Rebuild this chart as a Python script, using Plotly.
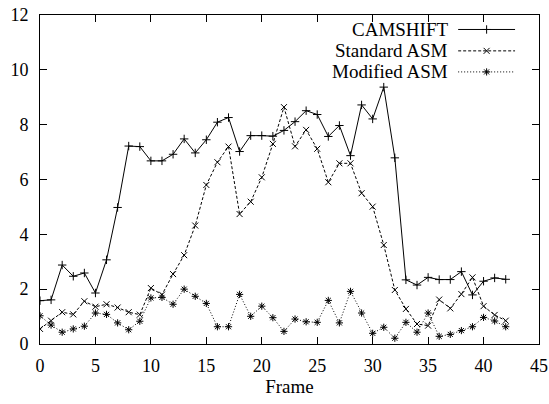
import plotly.graph_objects as go

frames = list(range(43))
camshift = [1.58, 1.61, 2.88, 2.47, 2.59, 1.86, 3.07, 4.98, 7.22, 7.20,
            6.68, 6.68, 6.92, 7.48, 6.97, 7.45, 8.09, 8.26, 7.02, 7.60,
            7.60, 7.58, 7.79, 8.11, 8.51, 8.37, 7.57, 7.97, 6.87, 8.72,
            8.21, 9.37, 6.79, 2.34, 2.15, 2.43, 2.35, 2.35, 2.64, 1.79,
            2.29, 2.41, 2.36]
standard_asm = [0.55, 0.85, 1.16, 1.08, 1.56, 1.36, 1.45, 1.33, 1.16, 1.07,
                2.04, 1.80, 2.55, 3.24, 4.32, 5.80, 6.63, 7.20, 4.74, 5.19,
                6.08, 7.30, 8.64, 7.21, 7.81, 7.12, 5.90, 6.59, 6.59, 5.50,
                5.01, 3.61, 1.97, 1.28, 0.73, 0.67, 1.62, 1.30, 1.82, 2.43,
                1.38, 1.06, 0.85]
modified_asm = [1.03, 0.69, 0.43, 0.55, 0.65, 1.13, 1.08, 0.77, 0.52, 0.83,
                1.68, 1.70, 1.45, 2.00, 1.74, 1.48, 0.63, 0.63, 1.81, 1.01,
                1.38, 0.96, 0.46, 0.91, 0.81, 0.79, 1.59, 0.77, 1.92, 1.13,
                0.39, 0.61, 0.21, 0.79, 0.43, 1.13, 0.28, 0.35, 0.49, 0.63,
                0.97, 0.84, 0.63]

names = ["CAMSHIFT", "Standard ASM", "Modified ASM"]
series = [camshift, standard_asm, modified_asm]
dashes = ["solid", "3px,2px", "1px,2px"]
symbols = ["cross-thin-open", "x-thin-open", "asterisk-open"]
xticks = [0, 5, 10, 15, 20, 25, 30, 35, 40, 45]
yticks = [0, 2, 4, 6, 8, 10, 12]

FONT = "Liberation Serif"
FS = 19
TFS = 18

fig = go.Figure()
for name, ys, dash, sym in zip(names, series, dashes, symbols):
    fig.add_trace(go.Scatter(
        x=frames, y=ys, name=name, mode="lines+markers",
        line=dict(color="black", width=1, dash=dash),
        marker=dict(symbol=sym, size=6, color="black",
                    line=dict(color="black", width=1)),
        showlegend=False,
    ))

# manual gnuplot-style legend (text on the left, sample on the right)
leg_y = [0.956, 0.891, 0.827]
x_text, x_l0, x_l1 = 0.822, 0.838, 0.952
for name, dash, sym, ly in zip(names, dashes, symbols, leg_y):
    fig.add_annotation(x=x_text, y=ly, xref="paper", yref="paper",
                       text=name, showarrow=False, xanchor="right",
                       yanchor="middle",
                       font=dict(family=FONT, size=FS, color="black"))
    fig.add_shape(type="line", xref="paper", yref="paper",
                  x0=x_l0, x1=x_l1, y0=ly, y1=ly,
                  line=dict(color="black", width=1, dash=dash))
fig.add_trace(go.Scatter(
    x=[(x_l0 + x_l1) / 2] * 3, y=leg_y, xaxis="x2", yaxis="y2",
    mode="markers", showlegend=False, hoverinfo="skip",
    marker=dict(symbol=symbols, size=6, color="black",
                line=dict(color="black", width=1)),
))

axis_common = dict(
    showline=True, linecolor="black", linewidth=1, mirror="ticks",
    ticks="inside", ticklen=7, tickcolor="black", tickwidth=1,
    showgrid=False, zeroline=False, automargin=False,
    tickfont=dict(family=FONT, size=TFS, color="black"),
)

fig.update_layout(
    width=549, height=404,
    margin=dict(l=40, r=10, t=15, b=60, autoexpand=False),
    plot_bgcolor="white", paper_bgcolor="white",
    font=dict(family=FONT, size=FS, color="black"),
    xaxis=dict(range=[0, 45], tickvals=xticks, ticklabelstandoff=5,
               title=dict(text="Frame", standoff=0,
                          font=dict(family=FONT, size=FS, color="black")),
               **axis_common),
    yaxis=dict(range=[0, 12], tickvals=yticks, ticklabelstandoff=7,
               **axis_common),
    xaxis2=dict(overlaying="x", range=[0, 1], visible=False),
    yaxis2=dict(overlaying="y", range=[0, 1], visible=False),
)

fig.write_html("out.html",
               config={"displayModeBar": False},
               post_script="document.body.style.margin='0';"
                           "document.body.style.overflow='hidden';")
